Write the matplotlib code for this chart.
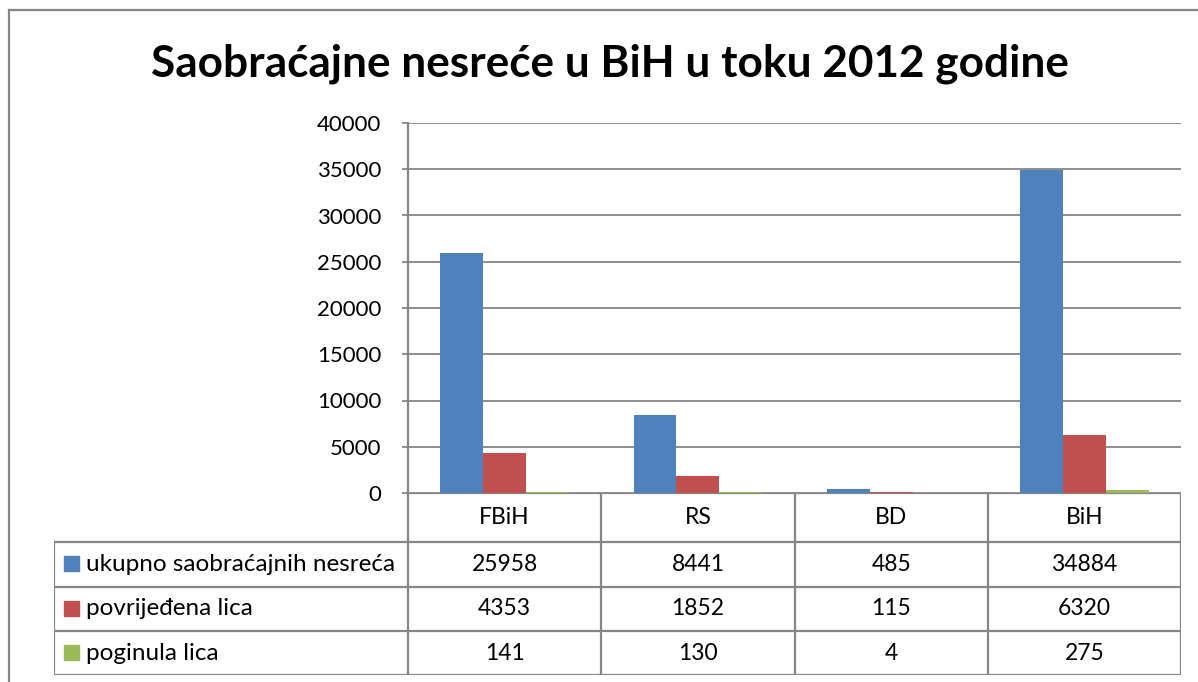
import numpy as np
import matplotlib
matplotlib.use('Agg')
import matplotlib.pyplot as plt
from matplotlib.patches import Rectangle
from matplotlib.lines import Line2D

# Data ~~~~~~~~~~~~~~~~~~~~~~~~~~~~~~~~~~~~~~~~~~~~~~~~~~~~~~~~~~~~~~~~~~~~~~~~~~~~
categories = ['FBiH', 'RS', 'BD', 'BiH']
series_names = ['ukupno saobraćajnih nesreća', 'povrijeđena lica', 'poginula lica']
ukupno = [25958, 8441, 485, 34884]
povrijedjena = [4353, 1852, 115, 6320]
poginula = [141, 130, 4, 275]
yticks = [0, 5000, 10000, 15000, 20000, 25000, 30000, 35000, 40000]
title = 'Saobraćajne nesreće u BiH u toku 2012 godine'

series = [ukupno, povrijedjena, poginula]
colors = ['#4F81BD', '#C0504D', '#9BBB59']
grey = '#868686'
font = 'Lato'

W, H = 1198, 682
fig = plt.figure(figsize=(W / 100, H / 100), dpi=100)

def px_rect(x0, y0, x1, y1):
    # pixel box (top-left origin) -> figure fraction
    return [x0 / W, 1 - y1 / H, (x1 - x0) / W, (y1 - y0) / H]

# outer chart frame (cut off on right and bottom)
fig.add_artist(Line2D([9 / W, 9 / W], [0, 1 - 10 / H], color=grey, lw=1.6, transform=fig.transFigure))
fig.add_artist(Line2D([9 / W, 1], [1 - 10 / H, 1 - 10 / H], color=grey, lw=1.6, transform=fig.transFigure))

fig.text(610 / W, 1 - 64 / H, title, ha='center', va='center', fontsize=31.8,
         fontweight='bold', family=font)

# Bar chart ~~~~~~~~~~~~~~~~~~~~~~~~~~~~~~~~~~~~~~~~~~~~~~~~~~~~~~~~~~~~~~~~~~~~~~~
ax = fig.add_axes(px_rect(408, 123, 1181, 493))
x = np.arange(len(categories))
bw = 0.222
for i, vals in enumerate(series):
    ax.bar(x + (i - 1) * bw, vals, width=bw, color=colors[i], zorder=3)
ax.set_xlim(-0.5, len(categories) - 0.5)
ax.set_ylim(0, 40000)
ax.set_yticks(yticks)
ax.set_yticklabels([str(v) for v in yticks], family=font, fontsize=16)
ax.set_xticks([])
ax.yaxis.grid(True, color=grey, lw=1.3, zorder=0)
for s in ['top', 'right', 'bottom']:
    ax.spines[s].set_visible(False)
ax.spines['left'].set_color(grey)
ax.spines['left'].set_linewidth(1.6)
ax.tick_params(axis='y', length=4, width=1.3, color=grey, pad=15)

# Data table ~~~~~~~~~~~~~~~~~~~~~~~~~~~~~~~~~~~~~~~~~~~~~~~~~~~~~~~~~~~~~~~~~~~~~~
tax = fig.add_axes(px_rect(54, 493, 1181, 675))
label_w = (408 - 54) / ((1181 - 408) / 4)
tax.set_xlim(-label_w, len(categories))
row_edges = [0, 49, 93.5, 138, 182]
tax.set_ylim(row_edges[-1], 0)
tax.axis('off')

lk = dict(color=grey, lw=1.6, solid_capstyle='projecting')
# horizontal lines
tax.plot([0, len(categories)], [row_edges[0]] * 2, **lk)
for r in row_edges[1:]:
    tax.plot([-label_w, len(categories)], [r, r], **lk)
# vertical lines
for c in range(len(categories) + 1):
    tax.plot([c, c], [row_edges[0], row_edges[-1]], **lk)
tax.plot([-label_w, -label_w], [row_edges[1], row_edges[-1]], **lk)

for j, cat in enumerate(categories):
    tax.text(j + 0.5, (row_edges[0] + row_edges[1]) / 2, cat, ha='center', va='center',
             family=font, fontsize=16.5)
for i, vals in enumerate(series):
    yc = (row_edges[i + 1] + row_edges[i + 2]) / 2
    tax.add_patch(Rectangle((-label_w + 0.05, yc - 8), 0.078, 15, color=colors[i], clip_on=False))
    tax.text(-label_w + 0.165, yc, series_names[i], ha='left', va='center', family=font, fontsize=17.5)
    for j, v in enumerate(vals):
        tax.text(j + 0.5, yc, str(v), ha='center', va='center', family=font, fontsize=16.5)

fig.savefig('out.png', dpi=100)
